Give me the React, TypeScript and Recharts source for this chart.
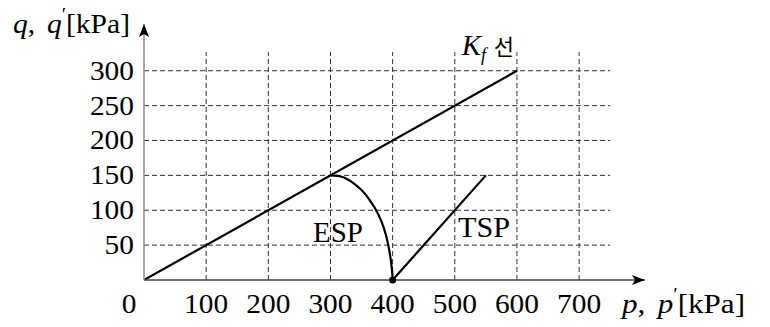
import React from "react";
import { LineChart, Line, XAxis, YAxis, ReferenceLine, ReferenceDot } from "recharts";

const xTicks = [0, 100, 200, 300, 400, 500, 600, 700];
const yTicks = [50, 100, 150, 200, 250, 300];
const gridX = [100, 200, 300, 400, 500, 600, 700];
const gridY = [50, 100, 150, 200, 250, 300];

const kfLine = [
  { x: 0, y: 0 },
  { x: 600, y: 300 },
];
const tspLine = [
  { x: 400, y: 0 },
  { x: 550, y: 150 },
];
const espCurve = [
  { x: 300, y: 150 },
  { x: 311, y: 149.4 },
  { x: 322, y: 147 },
  { x: 332, y: 142 },
  { x: 341, y: 136 },
  { x: 350, y: 129 },
  { x: 358, y: 121 },
  { x: 365, y: 112 },
  { x: 371, y: 104 },
  { x: 377, y: 94 },
  { x: 382, y: 84 },
  { x: 386, y: 74 },
  { x: 390, y: 62 },
  { x: 393, y: 50 },
  { x: 395.5, y: 38 },
  { x: 397.5, y: 26 },
  { x: 399, y: 14 },
  { x: 399.7, y: 6 },
  { x: 400, y: 0 },
];

const FONT = "Liberation Serif, DejaVu Serif, serif";
const KFONT = "Noto Sans CJK KR, sans-serif";
const X_MAX = 806;
const Y_MAX = 367;
const GRID_X_END = 750;
const GRID_Y_END = 327;
const DIGIT_W = 14.7;

const XTick = (props: any) => {
  const { x, y, payload } = props;
  const dx = payload.value === 0 ? -15 : 0;
  const s = String(payload.value);
  return (
    <text
      x={x + dx}
      y={y + 33}
      textAnchor="middle"
      style={{ fontFamily: FONT }}
      fontSize={27}
      fill="#000"
      textLength={s.length * DIGIT_W}
      lengthAdjust="spacingAndGlyphs"
    >
      {s}
    </text>
  );
};

const YTick = (props: any) => {
  const { x, y, payload } = props;
  const s = String(payload.value);
  return (
    <text
      x={x - 10}
      y={y + 9}
      textAnchor="end"
      style={{ fontFamily: FONT }}
      fontSize={27}
      fill="#000"
      textLength={s.length * DIGIT_W}
      lengthAdjust="spacingAndGlyphs"
    >
      {s}
    </text>
  );
};

const XArrow = (props: any) => {
  const { cx, cy } = props;
  return (
    <g>
      <polygon points={`${cx},${cy} ${cx - 13},${cy - 5} ${cx - 10},${cy} ${cx - 13},${cy + 5}`} fill="#000" />
      <text
        x={cx - 23}
        y={cy + 33}
        style={{ fontFamily: FONT }}
        fontSize={27}
        fill="#000"
        textLength={123}
        lengthAdjust="spacingAndGlyphs"
      >
        <tspan fontStyle="italic">p</tspan>
        <tspan>, </tspan>
        <tspan fontStyle="italic" dx={4}>p</tspan>
        <tspan fontSize={18} dy={-12}>′</tspan>
        <tspan dy={12}>[kPa]</tspan>
      </text>
    </g>
  );
};

const YArrow = (props: any) => {
  const { cx, cy } = props;
  return (
    <g>
      <polygon points={`${cx},${cy} ${cx - 5},${cy + 13} ${cx},${cy + 10} ${cx + 5},${cy + 13}`} fill="#000" />
      <text
        x={cx - 131}
        y={cy + 9}
        style={{ fontFamily: FONT }}
        fontSize={27}
        fill="#000"
        textLength={117}
        lengthAdjust="spacingAndGlyphs"
      >
        <tspan fontStyle="italic">q</tspan>
        <tspan>, </tspan>
        <tspan fontStyle="italic" dx={4}>q</tspan>
        <tspan fontSize={18} dy={-12}>′</tspan>
        <tspan dy={12}>[kPa]</tspan>
      </text>
    </g>
  );
};

const makeText = (content: string, width: number) => (props: any) => {
  const { cx, cy } = props;
  return (
    <text
      x={cx}
      y={cy}
      textAnchor="middle"
      style={{ fontFamily: FONT }}
      fontSize={29}
      fill="#000"
      textLength={width}
      lengthAdjust="spacingAndGlyphs"
    >
      {content}
    </text>
  );
};

const KfLabel = (props: any) => {
  const { cx, cy } = props;
  return (
    <g>
      <text x={cx} y={cy} style={{ fontFamily: FONT }} fill="#000">
        <tspan fontStyle="italic" fontSize={29}>K</tspan>
        <tspan fontStyle="italic" fontSize={18} dy={6} dx={0}>f</tspan>
      </text>
      <text x={cx + 32} y={cy} style={{ fontFamily: KFONT }} fontSize={22} fill="#000">
        선
      </text>
    </g>
  );
};

const EspLabel = makeText("ESP", 50);
const TspLabel = makeText("TSP", 52);

const Dot = (props: any) => <circle cx={props.cx} cy={props.cy} r={3.5} fill="#000" />;

export default function App() {
  return (
    <div style={{ position: "absolute", left: 0, top: 0, background: "#fff" }}>
      <LineChart
        width={770}
        height={327}
        margin={{ top: 24, right: 125, bottom: 17, left: 84 }}
      >
        <XAxis
          dataKey="x"
          type="number"
          domain={[0, X_MAX]}
          ticks={xTicks}
          tick={<XTick />}
          tickLine={false}
          tickSize={0}
          tickMargin={0}
          height={30}
          axisLine={{ stroke: "#444", strokeWidth: 1.5 }}
          allowDataOverflow
        />
        <YAxis
          type="number"
          domain={[0, Y_MAX]}
          ticks={yTicks}
          tick={<YTick />}
          tickLine={false}
          tickSize={0}
          tickMargin={0}
          width={60}
          axisLine={{ stroke: "#888", strokeWidth: 1.5 }}
          allowDataOverflow
        />
        {gridY.map((v) => (
          <ReferenceLine
            key={"gy" + v}
            segment={[{ x: 0, y: v }, { x: GRID_X_END, y: v }]}
            stroke="#333"
            strokeWidth={1}
            strokeDasharray="5 3"
          />
        ))}
        {gridX.map((v) => (
          <ReferenceLine
            key={"gx" + v}
            segment={[{ x: v, y: 0 }, { x: v, y: GRID_Y_END }]}
            stroke="#333"
            strokeWidth={1}
            strokeDasharray="5 3"
          />
        ))}
        <Line data={kfLine} dataKey="y" stroke="#000" strokeWidth={2.2} dot={false} isAnimationActive={false} />
        <Line data={tspLine} dataKey="y" stroke="#000" strokeWidth={2.2} dot={false} isAnimationActive={false} />
        <Line data={espCurve} dataKey="y" type="linear" stroke="#000" strokeWidth={2.2} dot={false} isAnimationActive={false} />
        <ReferenceDot x={400} y={0} r={3.5} shape={<Dot />} ifOverflow="visible" />
        <ReferenceDot x={X_MAX} y={0} r={0} shape={<XArrow />} ifOverflow="visible" />
        <ReferenceDot x={0} y={Y_MAX} r={0} shape={<YArrow />} ifOverflow="visible" />
        <ReferenceDot x={511} y={322.6} r={0} shape={<KfLabel />} ifOverflow="visible" />
        <ReferenceDot x={312} y={54.5} r={0} shape={<EspLabel />} ifOverflow="visible" />
        <ReferenceDot x={547} y={61.6} r={0} shape={<TspLabel />} ifOverflow="visible" />
      </LineChart>
    </div>
  );
}
